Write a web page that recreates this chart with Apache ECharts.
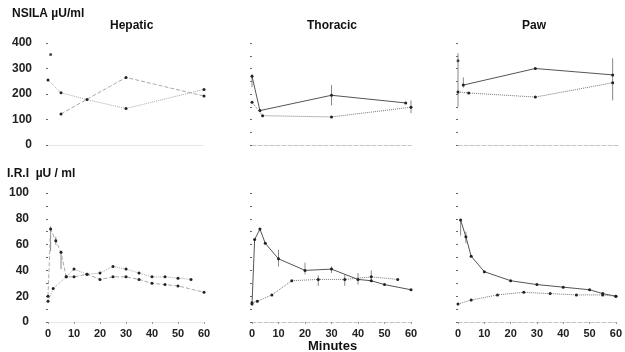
<!DOCTYPE html>
<html>
<head>
<meta charset="utf-8">
<script src="https://cdn.jsdelivr.net/npm/echarts@6/dist/echarts.min.js"></script>
<style>html,body{margin:0;padding:0;background:#fff}#c{width:625px;height:352px}</style>
</head>
<body>
<div id="c"></div>
<script>
// ---- data (minutes, value) ----
const panelTitles = ['Hepatic', 'Thoracic', 'Paw'];
const topYLabel = 'NSILA \u00b5U/ml';
const bottomYLabel = 'I.R.I  \u00b5U / ml';
const xLabel = 'Minutes';

// NSILA (top row)
const nsilaHepaticSolid  = [[5,122],[30,265],[60,192]];
const nsilaHepaticDotted = [[0,255],[5,205],[15,178],[30,143],[60,218]];
const nsilaHepaticSingle = [[1,355]];
const nsilaThoracicSolid  = [[0,270],[3,135],[30,195],[58,165]];
const nsilaThoracicDotted = [[0,168],[4,115],[30,110],[60,148]];
const nsilaThoracicSingle = [];
const nsilaPawSolid  = [[2,235],[29,300],[58,275]];
const nsilaPawDotted = [[0,208],[4,204],[29,188],[58,244]];
const nsilaPawSingle = [[0,330]];

// IRI (bottom row)
const iriHepaticSolid  = [[0,20],[1,72],[3,63],[5,54],[7,35],[10,35],[15,37],[20,33],[25,35],[30,35],[35,33],[40,30],[45,29],[50,28],[60,23]];
const iriHepaticDotted = [[0,16],[2,26],[7,35],[10,41],[15,37],[20,38],[25,43],[30,41],[35,38],[40,35],[45,35],[50,34],[55,33]];
const iriHepaticSingle = [];
const iriThoracicSolid  = [[0,14],[1,64],[3,72],[5,61],[10,49],[20,40],[30,41],[40,33],[45,32],[50,29],[60,25]];
const iriThoracicDotted = [[0,15],[2,16],[7.5,21],[15,32],[25,33],[35,33],[45,35],[55,33]];
const iriThoracicSingle = [];
const iriPawSolid  = [[1,79],[3,66],[5,51],[10,39],[20,32],[30,29],[40,27],[50,25],[55,22],[60,20]];
const iriPawDotted = [[0,14],[5,17],[15,21],[25,23],[35,22],[45,21],[55,21],[60,20]];
const iriPawSingle = [];

// error bars [minute, low, high]
const errHepaticTop = [];
const errThoracicTop = [[0,227,278],[30,155,235],[60,125,175]];
const errPawTop = [[0,150,360],[2,225,265],[58,175,340]];
const errHepaticBottom = [[1,55,74],[3,60,66],[5,41,54]];
const errThoracicBottom = [[10,43,56],[20,37,46],[25,28,36],[30,38,43],[35,28,37],[40,29,38],[45,31,40]];
const errPawBottom = [[1,67,79],[3,61,70]];

const panels = [
  {solid:nsilaHepaticSolid, dotted:nsilaHepaticDotted, single:nsilaHepaticSingle, err:errHepaticTop},
  {solid:nsilaThoracicSolid, dotted:nsilaThoracicDotted, single:nsilaThoracicSingle, err:errThoracicTop},
  {solid:nsilaPawSolid, dotted:nsilaPawDotted, single:nsilaPawSingle, err:errPawTop},
  {solid:iriHepaticSolid, dotted:iriHepaticDotted, single:iriHepaticSingle, err:errHepaticBottom},
  {solid:iriThoracicSolid, dotted:iriThoracicDotted, single:iriThoracicSingle, err:errThoracicBottom},
  {solid:iriPawSolid, dotted:iriPawDotted, single:iriPawSingle, err:errPawBottom}
];

// ---- layout ----
const colLeft = [48, 252, 458];
const colWidth = [156, 159, 160];
const yOffsets = [[12, 13, 15], [15, 14, 14]];
const rowTop = [43, 193];
const rowHeight = [102, 129];
const FONT = 'Liberation Sans';

const grids = [], xAxes = [], yAxes = [], series = [];
for (let i = 0; i < 6; i++) {
  const row = Math.floor(i / 3), col = i % 3;
  const faint = col === 0;
  grids.push({left: colLeft[col], top: rowTop[row], width: colWidth[col], height: rowHeight[row]});
  xAxes.push({
    type: 'value', gridIndex: i, min: 0, max: 60, interval: 10,
    axisLine: {show: true, lineStyle: {color: faint ? '#e2e2e2' : '#c4c4c4', width: 1, type: faint ? 'dotted' : 'dashed'}},
    axisTick: {show: row === 1, length: 2, lineStyle: {color: '#999'}},
    axisLabel: {show: row === 1, fontFamily: FONT, fontSize: 11, fontWeight: 'bold', color: '#222', margin: 6},
    splitLine: {show: false}
  });
  const isTop = row === 0;
  yAxes.push({
    type: 'value', gridIndex: i, min: 0, max: isTop ? 400 : 100,
    interval: isTop ? (col === 0 ? 100 : 50) : 10,
    offset: yOffsets[row][col],
    axisLine: {show: false},
    axisTick: {show: true, length: 2, lineStyle: {color: '#666'}},
    axisLabel: {
      show: col === 0, fontFamily: FONT, fontSize: 12, fontWeight: 'bold', color: '#222', margin: 4,
      formatter: v => (isTop ? (v % 100 === 0) : (v % 20 === 0)) ? String(v) : ''
    },
    splitLine: {show: false}
  });
  const p = panels[i];
  series.push({
    type: 'line', xAxisIndex: i, yAxisIndex: i, data: p.solid,
    symbol: 'circle', symbolSize: 3, itemStyle: {color: '#222'},
    lineStyle: {color: faint ? '#aaa' : '#555', width: 1, type: faint ? 'dashed' : 'solid'}, animation: false
  });
  series.push({
    type: 'line', xAxisIndex: i, yAxisIndex: i, data: p.dotted,
    symbol: 'circle', symbolSize: 3, itemStyle: {color: '#222'},
    lineStyle: {color: faint ? '#aaa' : '#777', width: 1, type: 'dotted'}, animation: false
  });
  series.push({
    type: 'scatter', xAxisIndex: i, yAxisIndex: i, data: p.single,
    symbol: 'circle', symbolSize: 3, itemStyle: {color: '#222'}, animation: false
  });
  series.push({
    type: 'custom', xAxisIndex: i, yAxisIndex: i, data: p.err,
    encode: {x: 0, y: [1, 2]},
    renderItem: (params, api) => {
      const a = api.coord([api.value(0), api.value(1)]);
      const b = api.coord([api.value(0), api.value(2)]);
      return {type: 'line', shape: {x1: a[0], y1: a[1], x2: b[0], y2: b[1]},
              style: {stroke: '#888', lineWidth: 1}};
    },
    animation: false
  });
}

const textStyle = (s) => Object.assign({fontFamily: FONT, fill: '#111'}, s);
const graphic = [
  {type: 'text', left: 12, top: 8, style: textStyle({text: topYLabel, fontSize: 12, fontWeight: 'bold'})},
  {type: 'text', left: 7, top: 168, style: textStyle({text: bottomYLabel, fontSize: 12, fontWeight: 'bold'})},
  {type: 'text', left: 110, top: 20, style: textStyle({text: panelTitles[0], fontSize: 12, fontWeight: 'bold'})},
  {type: 'text', left: 307, top: 20, style: textStyle({text: panelTitles[1], fontSize: 12, fontWeight: 'bold'})},
  {type: 'text', left: 522, top: 20, style: textStyle({text: panelTitles[2], fontSize: 12, fontWeight: 'bold'})},
  {type: 'text', left: 308, top: 340, style: textStyle({text: xLabel, fontSize: 13, fontWeight: 'bold'})}
];

const chart = echarts.init(document.getElementById('c'), null, {renderer: 'canvas'});
chart.setOption({
  animation: false,
  backgroundColor: '#fff',
  grid: grids, xAxis: xAxes, yAxis: yAxes, series: series, graphic: graphic
});
</script>
</body>
</html>
